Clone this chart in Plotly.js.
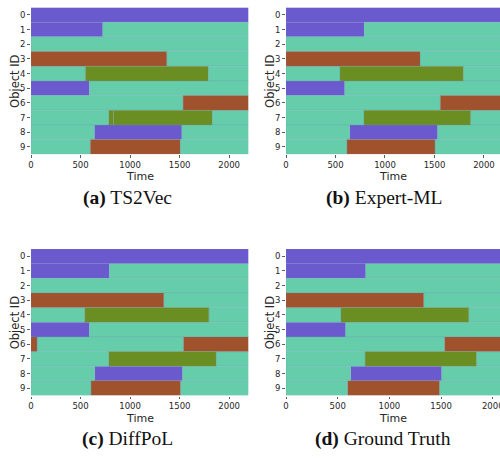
<!DOCTYPE html>
<html>
<head>
<meta charset="utf-8">
<script src="https://cdn.plot.ly/plotly-3.0.1.min.js"></script>
<style>
html,body{margin:0;padding:0;background:#fff;}
#chart{width:500px;height:459px;}
</style>
</head>
<body>
<div id="chart"></div>
<script>
// ---- data ----
const objectIds = [0,1,2,3,4,5,6,7,8,9];
const timeTicks = [0,500,1000,1500,2000];
const stateNames = ["purple","teal","brown","olive"];
const panelTitles = ["TS2Vec","Expert-ML","DiffPoL","Ground Truth"];
const panelLetters = ["(a)","(b)","(c)","(d)"];
const T_END = 2200;

// segments: [objectId, start, end, state]
const ts2vecSegments = [
  [0,0,T_END,"purple"],
  [1,0,724,"purple"],[1,724,T_END,"teal"],
  [2,0,T_END,"teal"],
  [3,0,1370,"brown"],[3,1370,T_END,"teal"],
  [4,0,549,"teal"],[4,549,1788,"olive"],[4,1788,T_END,"teal"],
  [5,0,589,"purple"],[5,589,T_END,"teal"],
  [6,0,1535,"teal"],[6,1535,T_END,"brown"],
  [7,0,785,"teal"],[7,785,832,"olive"],[7,832,1828,"olive"],[7,1828,T_END,"teal"],
  [8,0,640,"teal"],[8,640,1522,"purple"],[8,1522,T_END,"teal"],
  [9,0,599,"teal"],[9,599,1505,"brown"],[9,1505,T_END,"teal"]
];
const expertSegments = [
  [0,0,T_END,"purple"],
  [1,0,791,"purple"],[1,791,T_END,"teal"],
  [2,0,T_END,"teal"],
  [3,0,1354,"brown"],[3,1354,T_END,"teal"],
  [4,0,545,"teal"],[4,545,1791,"olive"],[4,1791,T_END,"teal"],
  [5,0,593,"purple"],[5,593,T_END,"teal"],
  [6,0,1559,"teal"],[6,1559,T_END,"brown"],
  [7,0,788,"teal"],[7,788,1865,"olive"],[7,1865,T_END,"teal"],
  [8,0,643,"teal"],[8,643,1532,"purple"],[8,1532,T_END,"teal"],
  [9,0,616,"teal"],[9,616,1505,"brown"],[9,1505,T_END,"teal"]
];
const diffpolSegments = [
  [0,0,T_END,"purple"],
  [1,0,791,"purple"],[1,791,T_END,"teal"],
  [2,0,T_END,"teal"],
  [3,0,1340,"brown"],[3,1340,T_END,"teal"],
  [4,0,542,"teal"],[4,542,1795,"olive"],[4,1795,T_END,"teal"],
  [5,0,589,"purple"],[5,589,T_END,"teal"],
  [6,0,61,"brown"],[6,61,1539,"teal"],[6,1539,T_END,"brown"],
  [7,0,785,"teal"],[7,785,1869,"olive"],[7,1869,T_END,"teal"],
  [8,0,643,"teal"],[8,643,1529,"purple"],[8,1529,T_END,"teal"],
  [9,0,606,"teal"],[9,606,1508,"brown"],[9,1508,T_END,"teal"]
];
const truthSegments = [
  [0,0,T_END,"purple"],
  [1,0,771,"purple"],[1,771,T_END,"teal"],
  [2,0,T_END,"teal"],
  [3,0,1332,"brown"],[3,1332,T_END,"teal"],
  [4,0,532,"teal"],[4,532,1768,"olive"],[4,1768,T_END,"teal"],
  [5,0,577,"purple"],[5,577,T_END,"teal"],
  [6,0,1535,"teal"],[6,1535,T_END,"brown"],
  [7,0,765,"teal"],[7,765,1842,"olive"],[7,1842,T_END,"teal"],
  [8,0,626,"teal"],[8,626,1506,"purple"],[8,1506,T_END,"teal"],
  [9,0,597,"teal"],[9,597,1484,"brown"],[9,1484,T_END,"teal"]
];
const panelSegments = [ts2vecSegments, expertSegments, diffpolSegments, truthSegments];
const panelXMax = [2193, 2162, 2193, 2070];

// ---- style ----
const stateColors = {purple:"#6A5ACD", teal:"#66CDAA", brown:"#A0522D", olive:"#6B8E23"};
const W = 500, H = 459;
const px = v => v / W, py = v => 1 - v / H;
const panelBoxes = [
  {x0:31, x1:248.3, y0:7.5, y1:154.3},
  {x0:286, x1:500, y0:7.5, y1:154.3},
  {x0:31, x1:248.3, y0:249, y1:395.5},
  {x0:286, x1:500, y0:249, y1:395.5}
];
const captionPos = [
  {x:127.5, y:198}, {x:383.5, y:198}, {x:127.5, y:439}, {x:382.5, y:439}
];

const traces = [];
const layout = {
  width: W, height: H,
  margin: {l:0, r:0, t:0, b:0},
  paper_bgcolor: "#fff", plot_bgcolor: "#fff",
  showlegend: false,
  barmode: "overlay",
  annotations: []
};
const tickFont = {family: "DejaVu Sans, sans-serif", size: 8.5, color: "#262626"};
const titleFont = {family: "DejaVu Sans, sans-serif", size: 11, color: "#262626"};

panelSegments.forEach((segs, p) => {
  const suf = p === 0 ? "" : String(p + 1);
  stateNames.forEach(st => {
    const s = segs.filter(d => d[3] === st);
    if (!s.length) return;
    traces.push({
      type: "bar", orientation: "h",
      xaxis: "x" + suf, yaxis: "y" + suf,
      y: s.map(d => d[0]),
      base: s.map(d => d[1]),
      x: s.map(d => d[2] - d[1]),
      width: 1,
      marker: {color: stateColors[st], line: {color: "rgba(110,150,190,0.4)", width: 0.6}},
      hoverinfo: "skip"
    });
  });
  const b = panelBoxes[p];
  layout["xaxis" + suf] = {
    domain: [px(b.x0), px(b.x1)],
    anchor: "y" + suf,
    range: [0, panelXMax[p]],
    tickvals: timeTicks,
    ticks: "outside", ticklen: 2.5, tickwidth: 0.8, tickcolor: "#333",
    tickfont: tickFont, ticklabeloverflow: "allow",
    showgrid: false, zeroline: false, showline: false
  };
  layout["yaxis" + suf] = {
    domain: [py(b.y1), py(b.y0)],
    anchor: "x" + suf,
    range: [9.5, -0.5],
    tickvals: objectIds,
    ticks: "outside", ticklen: 3, tickwidth: 0.8, tickcolor: "#333",
    tickfont: tickFont,
    showgrid: false, zeroline: false, showline: false
  };
  // axis titles
  const xMid = (b.x0 + Math.min(b.x1, b.x0 + 217.3)) / 2;
  layout.annotations.push({
    xref: "paper", yref: "paper",
    x: px(xMid), y: py(b.y1 + 22.5),
    xanchor: "center", yanchor: "middle", showarrow: false, borderpad: 0,
    text: "Time", font: titleFont
  });
  layout.annotations.push({
    xref: "paper", yref: "paper",
    x: px(b.x0 - 16), y: py((b.y0 + b.y1) / 2),
    xanchor: "center", yanchor: "middle", showarrow: false,
    textangle: -90,
    text: "Object ID", font: {family: "DejaVu Sans, sans-serif", size: 11.5, color: "#262626"}
  });
  layout.annotations.push({
    xref: "paper", yref: "paper",
    x: px(captionPos[p].x), y: py(captionPos[p].y),
    xanchor: "center", yanchor: "middle",
    showarrow: false,
    text: "<b>" + panelLetters[p] + "</b> " + panelTitles[p],
    font: {family: "Liberation Serif, serif", size: 19.5, color: "#111"}
  });
});

Plotly.newPlot("chart", traces, layout, {displayModeBar: false, staticPlot: true});
</script>
</body>
</html>
